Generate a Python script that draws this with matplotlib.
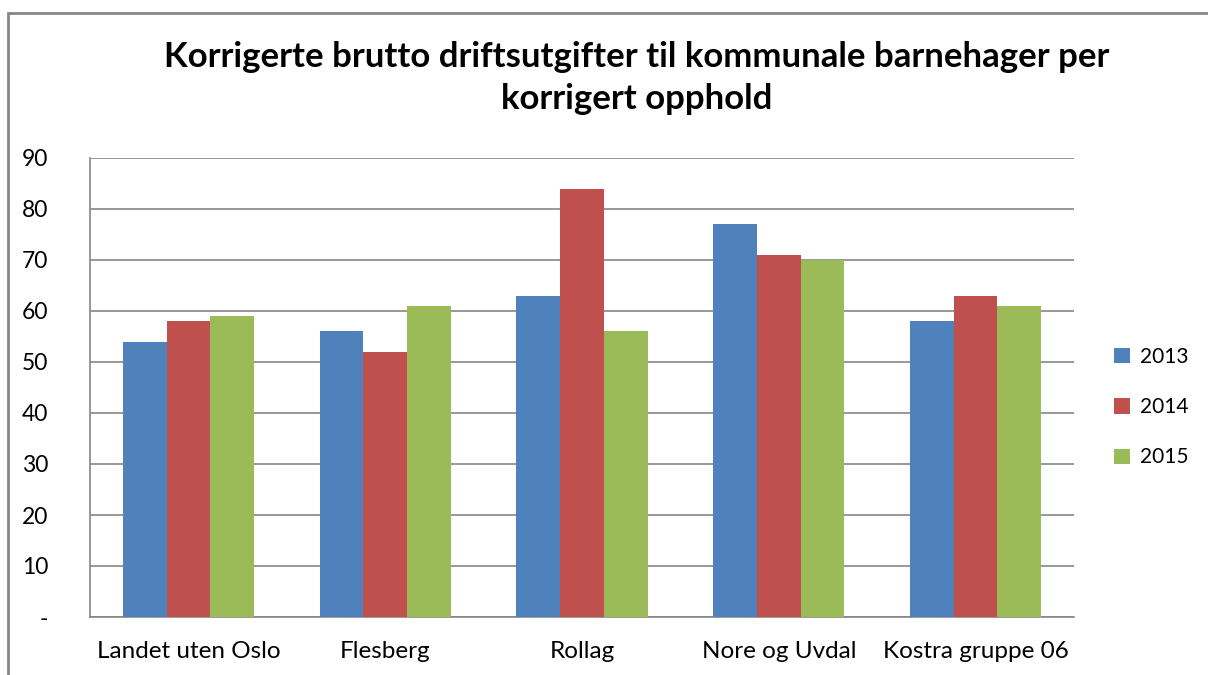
import numpy as np
import matplotlib.pyplot as plt
from matplotlib.patches import Rectangle

plt.rcParams['font.family'] = ['Lato', 'DejaVu Sans']

## data
categories = ["Landet uten Oslo", "Flesberg", "Rollag", "Nore og Uvdal", "Kostra gruppe 06"]
years = ["2013", "2014", "2015"]
v2013 = [54, 56, 63, 77, 58]
v2014 = [58, 52, 84, 71, 63]
v2015 = [59, 61, 56, 70, 61]
yticks = [0, 10, 20, 30, 40, 50, 60, 70, 80, 90]
ytick_labels = ["-", "10", "20", "30", "40", "50", "60", "70", "80", "90"]
colors = ["#4F81BD", "#C0504D", "#9BBB59"]

fig = plt.figure(figsize=(12.08, 6.75), dpi=100)
ax = fig.add_axes([90 / 1208, 1 - 617 / 675, 984 / 1208, 459 / 675])

# outer chart frame (right/bottom edges are cut off in the reference)
fig.patches.append(Rectangle((8 / 1208, -0.1), 1.2, 1 - 13 / 675 + 0.1,
                             transform=fig.transFigure, fill=False,
                             edgecolor="#868686", linewidth=2))

x = np.arange(len(categories))
w = 1 / 4.5
for i, (vals, yr) in enumerate(zip([v2013, v2014, v2015], years)):
    ax.bar(x + (i - 1) * w, vals, width=w, color=colors[i], label=yr, zorder=3)

ax.set_xlim(-0.5, len(categories) - 0.5)
ax.set_ylim(0, 90)
ax.set_yticks(yticks)
ax.set_yticklabels(ytick_labels)
ax.set_xticks(x)
ax.set_xticklabels(categories)
ax.tick_params(axis="both", length=0)
ax.tick_params(axis="y", pad=30, labelsize=16.5)
ax.tick_params(axis="x", pad=17, labelsize=17.5)
for lbl in ax.get_yticklabels():
    lbl.set_horizontalalignment("right")
ax.grid(axis="y", color="#868686", linewidth=1.2, zorder=0)
for s in ["top", "right"]:
    ax.spines[s].set_visible(False)
for s in ["left", "bottom"]:
    ax.spines[s].set_color("#868686")
    ax.spines[s].set_linewidth(1.2)

fig.text(0.527, 1 - 78 / 675,
         "Korrigerte brutto driftsutgifter til kommunale barnehager per\nkorrigert opphold",
         ha="center", va="center", fontsize=25, fontweight="bold", linespacing=1.38)

leg = ax.legend(loc="center left", bbox_to_anchor=(1.022, 0.457), frameon=False,
                fontsize=15, handlelength=0.75, handleheight=0.75,
                handletextpad=0.5, labelspacing=1.45)

fig.savefig("out.png", dpi=100)
